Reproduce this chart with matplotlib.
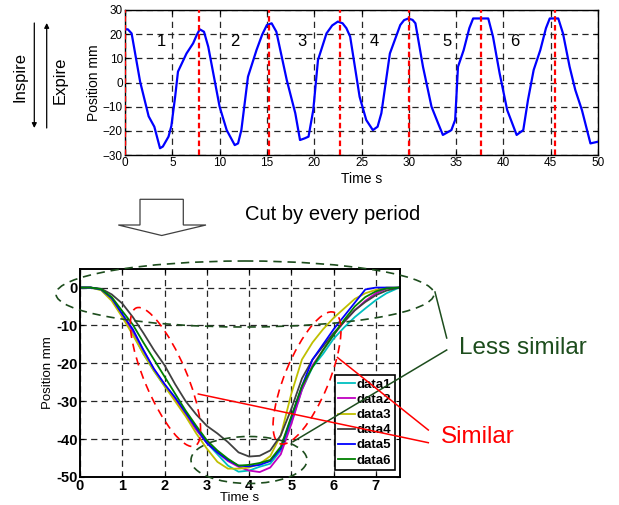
import matplotlib
matplotlib.use("Agg")
import matplotlib.pyplot as plt
from matplotlib.patches import Ellipse, Polygon
import numpy as np

plt.rcParams['font.family'] = ['Liberation Sans', 'DejaVu Sans']

# ---- top chart: raw respiration trace ----
t_top = [0, 0.3, 0.7, 1.6, 2.5, 3.1, 3.7, 4.0, 4.6, 4.9, 5.3, 5.6, 6.5, 7.2,
         7.6, 7.9, 8.35, 8.8, 10.0, 10.75, 11.6, 11.95, 12.3, 13.0, 13.9,
         14.5, 15.0, 15.5, 16.0, 17.1, 18.0, 18.5, 19.0, 19.4, 19.9, 20.4,
         21.3, 21.9, 22.5, 23.0, 23.4, 23.8, 24.8, 25.5, 26.2, 26.7, 27.1,
         28.0, 29.1, 29.5, 29.95, 30.4, 30.7, 31.5, 32.4, 33.1, 33.6, 34.5,
         34.9, 35.2, 35.8, 36.4, 36.8, 38.4, 38.9, 39.6, 40.4, 41.4, 42.1,
         42.6, 43.2, 43.9, 44.5, 44.9, 45.8, 46.3, 47.0, 47.6, 48.3, 49.2, 50]
pos_top = [22, 22, 20.3, 0.3, -14, -18.3, -27.2, -26.5, -22.4, -18, -5.9, 4.5,
           12, 16.2, 19.8, 22, 21, 14.8, -10, -19.7, -25.9, -25.2, -19.7, 2.4,
           13.4, 19.8, 23.8, 24.5, 21, 1, -12.7, -23.8, -23.1, -22.4, -11.4,
           9.3, 20.3, 23.6, 25.2, 24.5, 22.5, 19, -5.9, -15.5, -19.7, -18.3,
           -12.7, 12, 23.8, 25.8, 26.5, 25.9, 24.5, 6.5, -10, -16.9, -21.7,
           -19.7, -15.5, 6.5, 13.4, 22.5, 26.5, 26.5, 19, 3.8, -11.4, -21.7,
           -19.7, -7.2, 5.2, 13.4, 22.5, 26.5, 26.5, 20.3, 6.5, -3.1, -11.4,
           -25.2, -24.5]
period_marks = [0, 7.85, 15.2, 22.7, 30.05, 37.6, 45.45]
period_labels = ['1', '2', '3', '4', '5', '6']
label_t = [3.8, 11.6, 18.7, 26.4, 34.0, 41.2]
label_y = 17

# ---- bottom chart: cut periods ----
t_cut = [0, 0.25, 0.5, 0.75, 1.0, 1.25, 1.5, 1.75, 2.0, 2.25, 2.5, 2.75, 3.0,
         3.25, 3.5, 3.75, 4.0, 4.25, 4.5, 4.75, 5.0, 5.25, 5.5, 5.75, 6.0,
         6.25, 6.5, 6.75, 7.0, 7.25, 7.55]
data1 = [0, 0, -0.6, -3.2, -7.5, -12, -17.5, -22, -26, -29.5, -33.5, -37.5, -41,
         -44, -47, -48.6, -48.3, -47.3, -46.5, -43, -35.5, -27, -21, -17.5,
         -13.5, -10.5, -7.8, -5.5, -3.3, -1.5, 0]
data2 = [0, 0, -0.5, -3, -7.2, -11.5, -16.5, -21.5, -25.5, -29.5, -33.5, -37.5,
         -41, -43.5, -45.8, -47.3, -48.3, -48.7, -47.5, -44, -36, -27, -20.5,
         -16.5, -12.5, -9, -6, -3.5, -1.5, -0.3, 0]
data3 = [0, 0, -0.7, -3.5, -7.8, -12.5, -17.5, -22, -26, -30, -34, -38.5, -42.5,
         -46, -47.8, -47.8, -47.5, -46.5, -44.5, -39, -28, -19, -14.5, -11, -8,
         -5.5, -3, -1.5, -0.6, 0, 0]
data4 = [0, 0, -0.3, -1.8, -4.2, -7.8, -12, -16.5, -20.5, -25.5, -30, -33.5,
         -36.5, -38.5, -40.8, -43.5, -44.6, -44.4, -43, -39, -32, -24, -19,
         -15.5, -12, -9, -6, -3.8, -2, -0.8, 0]
data5 = [0, 0, -0.5, -2.8, -7, -11, -16.5, -21.5, -25.5, -29, -33, -37, -41,
         -43.5, -45.5, -47, -47.2, -46.8, -45.8, -42.5, -34.3, -26, -19, -15,
         -11, -7.5, -4, -0.5, 0, 0, 0]
data6 = [0, 0, -0.4, -2.5, -6.2, -9.8, -14.5, -19, -23.5, -28, -32.5, -36.5,
         -40.3, -43, -45.2, -47, -46.8, -46.3, -45.5, -42, -34, -26, -21, -16.5,
         -12.5, -8.5, -5, -2.5, -1, -0.2, 0]
series = [data1, data2, data3, data4, data5, data6]
names = ['data1', 'data2', 'data3', 'data4', 'data5', 'data6']
colors = ['#00bfbf', '#bf00bf', '#bfbf00', '#404040', '#0000ff', '#008000']
x2_ticks = [0, 1, 2, 3, 4, 5, 6, 7]
y2_ticks = [-50, -40, -30, -20, -10, 0]

W, H = 619, 505
fig = plt.figure(figsize=(W / 100, H / 100), dpi=100)

grid_kw = dict(color='0.15', linestyle=(0, (5, 3.5)), linewidth=0.9)

# top axes
ax1 = fig.add_axes([125 / W, 1 - 155 / H, 473 / W, 145 / H])
ax1.plot(t_top, pos_top, color='#0000ff', lw=1.6, zorder=3)
for tm in period_marks:
    ax1.axvline(tm, color='red', lw=1.6, linestyle=(0, (2.5, 1.5)), zorder=4)
for lab, tx in zip(period_labels, label_t):
    ax1.text(tx, label_y, lab, fontsize=12, ha='center', va='center')
ax1.set_xlim(0, 50)
ax1.set_ylim(-30, 30)
ax1.set_xticks([0, 5, 10, 15, 20, 25, 30, 35, 40, 45, 50])
ax1.set_yticks([-30, -20, -10, 0, 10, 20, 30])
ax1.grid(True, **grid_kw)
ax1.tick_params(direction='in', length=3, labelsize=8.5, pad=1.5,
                top=True, right=True)
ax1.set_xlabel('Time s', fontsize=10, labelpad=2)
ax1.set_ylabel('Position mm', fontsize=10, labelpad=1)
for s in ax1.spines.values():
    s.set_linewidth(1.0)

# bottom axes
ax2 = fig.add_axes([80 / W, 1 - 477 / H, 320 / W, 208 / H])
for d, nm, c in zip(series, names, colors):
    ax2.plot(t_cut, d, color=c, lw=1.3, label=nm)
ax2.set_xlim(0, 7.57)
ax2.set_ylim(-50, 4.9)
ax2.set_xticks(x2_ticks)
ax2.set_xticklabels([str(v) for v in x2_ticks], fontweight='bold')
ax2.set_yticks(y2_ticks)
ax2.set_yticklabels([str(v) for v in y2_ticks], fontweight='bold')
ax2.grid(True, **grid_kw)
ax2.tick_params(direction='in', length=3, labelsize=10.5, pad=1.5,
                top=True, right=True)
ax2.set_xlabel('Time s', fontsize=9.5, labelpad=-1)
ax2.set_ylabel('Position mm', fontsize=9.5, labelpad=2)
for s in ax2.spines.values():
    s.set_linewidth(1.4)
leg = ax2.legend(loc='lower right', bbox_to_anchor=(0.984, 0.034),
                 borderaxespad=0, fancybox=False, framealpha=1,
                 edgecolor='black', prop={'weight': 'bold', 'size': 9.5},
                 handlelength=1.3, handletextpad=0.15, labelspacing=0.22,
                 borderpad=0.25)
leg.get_frame().set_linewidth(1.2)

# overlay in pixel coordinates for annotations
ov = fig.add_axes([0, 0, 1, 1])
ov.set_xlim(0, W)
ov.set_ylim(H, 0)
ov.axis('off')

# inspire / expire
ov.annotate('', xy=(34.3, 128), xytext=(34.3, 23),
            arrowprops=dict(arrowstyle='-|>', color='black', lw=0.9,
                            mutation_scale=7, shrinkA=0, shrinkB=0))
ov.annotate('', xy=(46.7, 23), xytext=(46.7, 128),
            arrowprops=dict(arrowstyle='-|>', color='black', lw=0.9,
                            mutation_scale=7, shrinkA=0, shrinkB=0))
ov.text(20, 77, 'Inspire', rotation=90, fontsize=12, ha='center', va='center')
ov.text(60, 80, 'Expire', rotation=90, fontsize=12, ha='center', va='center')

# block arrow
arrow_pts = [(140, 199.3), (183.3, 199.3), (183.3, 225), (206, 225),
             (161.7, 235.5), (118.3, 225), (140, 225)]
ov.add_patch(Polygon(arrow_pts, closed=True, facecolor='white',
                     edgecolor='0.25', lw=0.9))
ov.text(333, 215, 'Cut by every period', fontsize=14.5, ha='center',
        va='center')

# ellipses
dk_green = '#1d4d1d'
dash = (0, (5, 3.5))
ov.add_patch(Ellipse((245, 294), 378, 66, fill=False, edgecolor=dk_green,
                     lw=1.2, linestyle=dash))
ov.add_patch(Ellipse((249, 460), 116, 47, fill=False, edgecolor=dk_green,
                     lw=1.2, linestyle=dash))
ov.add_patch(Ellipse((165.5, 377), 150, 42, angle=67, fill=False,
                     edgecolor='red', lw=1.2, linestyle=dash))
ov.add_patch(Ellipse((307, 378), 142, 44, angle=-67.5, fill=False,
                     edgecolor='red', lw=1.2, linestyle=dash))

# connector lines
ov.plot([435, 446.7], [292, 338], color=dk_green, lw=1.1)
ov.plot([446.7, 293], [350, 441.7], color=dk_green, lw=1.1)
ov.plot([428.3, 337.5], [430, 357.5], color='red', lw=1.1)
ov.plot([428.3, 198.3], [442.7, 394], color='red', lw=1.1)

ov.text(523, 348, 'Less similar', fontsize=17.5, color=dk_green,
        ha='center', va='center')
ov.text(478, 437, 'Similar', fontsize=17.5, color='red',
        ha='center', va='center')

fig.savefig('out.png', dpi=100)
